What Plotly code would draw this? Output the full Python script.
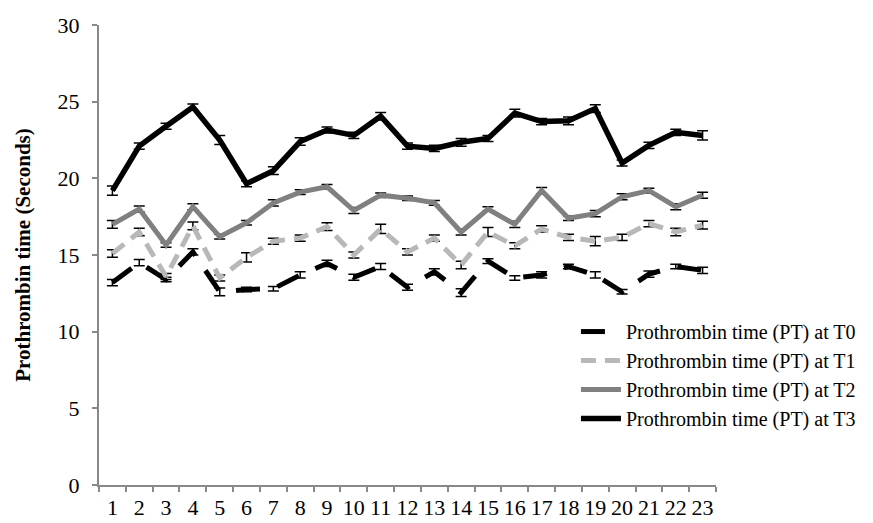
import plotly.graph_objects as go

categories = [str(i) for i in range(1, 24)]

t0 = [13.2, 14.5, 13.4, 15.2, 12.6, 12.75, 12.8, 13.7, 14.45, 13.55, 14.25, 12.9,
      13.9, 12.55, 14.6, 13.5, 13.7, 14.25, 13.7, 12.6, 13.75, 14.25, 14.0]
t1 = [15.1, 16.5, 13.6, 16.9, 13.5, 14.85, 15.9, 16.1, 16.85, 15.0, 16.7, 15.2,
      16.1, 14.35, 16.5, 15.6, 16.7, 16.15, 15.9, 16.15, 17.05, 16.5, 16.95]
t2 = [17.0, 18.0, 15.65, 18.15, 16.2, 17.1, 18.4, 19.1, 19.45, 17.9, 18.9, 18.7,
      18.4, 16.5, 18.0, 17.0, 19.2, 17.4, 17.7, 18.8, 19.2, 18.15, 18.9]
t3 = [19.2, 22.1, 23.4, 24.65, 22.5, 19.65, 20.5, 22.4, 23.15, 22.8, 24.05, 22.1,
      21.95, 22.35, 22.6, 24.25, 23.7, 23.75, 24.55, 21.0, 22.15, 23.0, 22.8]

t0_err = [0.2, 0.2, 0.15, 0.2, 0.25, 0.15, 0.15, 0.2, 0.2, 0.2, 0.2, 0.2,
          0.2, 0.25, 0.15, 0.15, 0.2, 0.15, 0.2, 0.15, 0.2, 0.15, 0.2]
t1_err = [0.25, 0.25, 0.2, 0.25, 0.2, 0.3, 0.2, 0.2, 0.25, 0.2, 0.3, 0.2,
          0.2, 0.25, 0.3, 0.2, 0.2, 0.2, 0.3, 0.2, 0.2, 0.25, 0.25]
t2_err = [0.25, 0.2, 0.15, 0.2, 0.15, 0.15, 0.2, 0.15, 0.15, 0.2, 0.15, 0.15,
          0.15, 0.2, 0.15, 0.2, 0.2, 0.15, 0.2, 0.2, 0.15, 0.2, 0.2]
t3_err = [0.3, 0.2, 0.2, 0.2, 0.3, 0.2, 0.25, 0.25, 0.2, 0.2, 0.25, 0.2,
          0.2, 0.25, 0.2, 0.25, 0.2, 0.25, 0.25, 0.2, 0.2, 0.2, 0.3]

names = ["Prothrombin time (PT) at T0", "Prothrombin time (PT) at T1",
         "Prothrombin time (PT) at T2", "Prothrombin time (PT) at T3"]

styles = [
    dict(color="#000000", width=5, dash="24px,18px"),
    dict(color="#b8b8b8", width=5, dash="15px,9px"),
    dict(color="#808080", width=5, dash="solid"),
    dict(color="#000000", width=5.5, dash="solid"),
]

fig = go.Figure()
for name, vals, errs, st in zip(names, [t0, t1, t2, t3], [t0_err, t1_err, t2_err, t3_err], styles):
    fig.add_trace(go.Scatter(
        x=categories, y=vals, mode="lines", name=name,
        line=st,
        error_y=dict(type="data", array=errs, visible=True, color="#000000",
                     thickness=1.5, width=5.5),
    ))

font_family = "Times New Roman"

fig.update_layout(
    width=865, height=515,
    margin=dict(l=91, r=147, t=17, b=38),
    paper_bgcolor="white", plot_bgcolor="white",
    font=dict(family=font_family, size=20, color="#000000"),
    showlegend=True,
    legend=dict(x=0.773, y=0.376, xanchor="left", yanchor="top",
                font=dict(family=font_family, size=20, color="#000000"),
                bgcolor="rgba(0,0,0,0)", tracegroupgap=0, itemwidth=40),
    xaxis=dict(
        type="category", range=[-0.5, 22.5], automargin=False,
        showline=True, linecolor="#888888", linewidth=2,
        ticks="outside", tickson="boundaries", ticklen=5, tickcolor="#888888", tickwidth=1.5,
        showgrid=False, zeroline=False, tickangle=0, ticklabelstandoff=2,
        tickfont=dict(family=font_family, size=22, color="#000000"),
    ),
    yaxis=dict(
        range=[0, 30], dtick=5, tick0=0, automargin=False,
        showline=True, linecolor="#888888", linewidth=2,
        ticks="outside", ticklen=5, tickcolor="#888888", tickwidth=1.5,
        showgrid=False, zeroline=False, ticklabelstandoff=8,
        tickfont=dict(family=font_family, size=22, color="#000000"),
        title=dict(text="<b>Prothrombin time (Seconds)</b>",
                   font=dict(family=font_family, size=21, color="#000000"),
                   standoff=21),
    ),
)

fig.write_html("out.html")
